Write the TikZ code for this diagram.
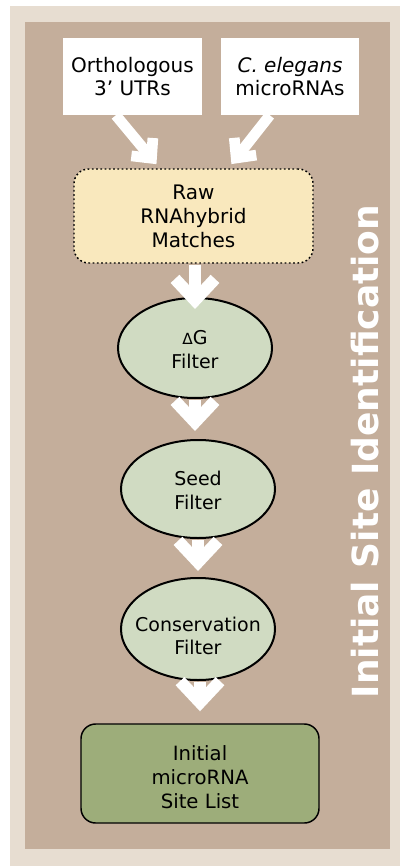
\documentclass[tikz,border=0pt]{standalone}
\usepackage{fontspec}
\setmainfont{DejaVu Sans}
\usetikzlibrary{arrows.meta,shapes.geometric,calc}

\definecolor{framebeige}{RGB}{231,221,209}
\definecolor{panelbrown}{RGB}{196,174,155}
\definecolor{rawfill}{RGB}{249,232,189}
\definecolor{filterfill}{RGB}{208,219,194}
\definecolor{listfill}{RGB}{157,173,122}

\begin{document}
\begin{tikzpicture}[x=0.75pt,y=-0.75pt,
  font=\fontsize{14.25}{17.5}\selectfont,
  inbox/.style={fill=white, inner sep=0pt, align=center,
    font=\fontsize{15}{17.5}\selectfont,
    minimum width=104pt, minimum height=57.75pt},
  rawbox/.style={draw=black, line width=1.1pt, dash pattern=on 1.3pt off 1.9pt,
    fill=rawfill, rounded corners=11pt, inner sep=0pt, align=center,
    font=\fontsize{15}{18}\selectfont,
    minimum width=179.25pt, minimum height=70.5pt},
  filterbox/.style={ellipse, draw=black, line width=1.5pt, fill=filterfill,
    inner sep=0pt, minimum width=115.5pt, minimum height=75pt},
  listbox/.style={draw=black, line width=1.1pt, fill=listfill,
    rounded corners=11pt, inner sep=0pt,
    minimum width=178.5pt, minimum height=74.25pt},
  label text/.style={inner sep=0pt, align=center},
  flow/.style={draw=white, line width=9pt,
    -{Straight Barb[length=16pt, width=30pt]}},
  feed/.style={draw=white, line width=8pt,
    -{Straight Barb[length=11pt, width=21pt]}},
  sidetitle/.style={rotate=90, anchor=base, inner sep=0pt, text=white,
    font=\bfseries\fontsize{27}{27}\selectfont}
]
\useasboundingbox (0,0) rectangle (400,866);
\fill[white] (0,0) rectangle (400,866);
\fill[framebeige] (10,6) rectangle (400,866);
\fill[panelbrown] (25,22) rectangle (390,849);

% inputs
\node[inbox] (orth) at (132.5,76.5) {Orthologous\\3’ UTRs};
\node[inbox] (mir) at (290,76.5) {\textit{C. elegans}\\microRNAs};

% raw matches
\node[rawbox] (raw) at (193.5,216) {Raw\\RNAhybrid\\Matches};

% filters
\node[filterbox] (dg) at (195,348) {};
\node[label text] (dgt) at (195,349.5) {{\fontsize{11.5}{11.5}\selectfont Δ}G\\Filter};
\node[filterbox, minimum height=73.5pt] (seed) at (198,489) {};
\node[label text] (seedt) at (198,490.5) {Seed\\Filter};
\node[filterbox, minimum height=76.5pt] (cons) at (198,629) {};
\node[label text] (const) at (198,636) {Conservation\\Filter};

% result
\node[listbox] (fin) at (200,773.5) {};
\node[label text, font=\fontsize{14.75}{18}\selectfont] (fint) at (200,777.5)
  {Initial\\microRNA\\Site List};

% side title
\node[sidetitle] (side) at (378,451.5) {Initial Site Identification};

% connectors
\draw[feed, shorten >=4pt]
  ($(orth.south west)!0.38!(orth.south east)$) --
  ($(raw.north west)!0.36!(raw.north east)$);
\draw[feed, shorten >=4pt]
  ($(mir.south west)!0.355!(mir.south east)$) --
  ($(raw.north west)!0.644!(raw.north east)$);
\draw[flow, shorten <=1pt, shorten >=-9pt] (raw.south -| dg.north) -- (dg.north);
\draw[flow, shorten <=1pt, shorten >=6pt] (dg.south) -- (dg.south |- seed.north);
\draw[flow, shorten <=1pt, shorten >=4.5pt] (seed.south) -- (seed.south |- cons.north);
\draw[flow, shorten <=1pt, shorten >=9pt] (cons.south -| fin.north) -- (fin.north);
\end{tikzpicture}
\end{document}
